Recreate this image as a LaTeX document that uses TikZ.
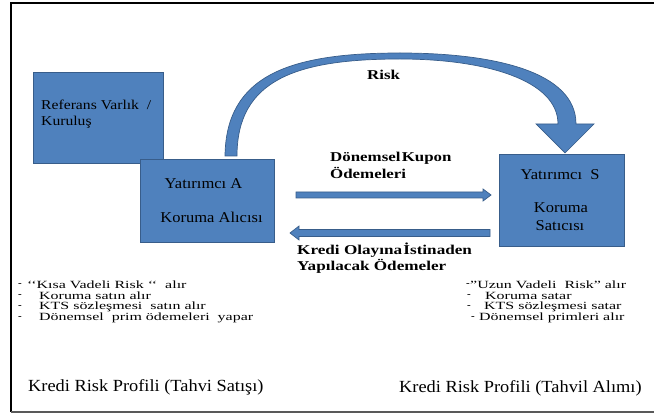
\documentclass[tikz,border=0pt]{standalone}
\usepackage{fontspec}
\setmainfont{Liberation Serif}
\usetikzlibrary{calc}
\definecolor{boxblue}{RGB}{79,129,189}
\definecolor{boxline}{RGB}{56,93,138}
\newcommand{\sx}[2]{\scalebox{#1}[1]{#2}}
\begin{document}
\begin{tikzpicture}[x=1pt,y=-1pt,
  bluebox/.style={draw=boxline, fill=boxblue, line width=1pt, rectangle, inner sep=0pt},
  boxtxt/.style={font=\fontsize{15}{15}\selectfont, text=black, inner sep=0pt},
  reftxt/.style={font=\fontsize{13.5}{13.5}\selectfont, text=black, inner sep=0pt, anchor=west},
  lbl/.style={font=\bfseries\fontsize{13.5}{13.5}\selectfont, inner sep=0pt, anchor=west},
  itemtxt/.style={font=\fontsize{11}{11}\selectfont, inner sep=0pt, anchor=west},
  profile/.style={font=\fontsize{17}{17}\selectfont, inner sep=0pt, anchor=west},
  bluearrow/.style={fill=boxblue, draw=boxline, line width=0.7pt, line join=miter}]
\useasboundingbox (0,0) rectangle (654,414);

% outer frame
\draw[line width=1.6pt, black] (654,3) -- (11,3) -- (11,412);
\draw[line width=1.6pt, black!65] (11,412) -- (654,412);

% boxes
\node[bluebox, minimum width=130pt, minimum height=91pt] (ref) at (98,118.5) {};
\node[bluebox, minimum width=134pt, minimum height=83pt] (A) at (207,201.5) {};
\node[bluebox, minimum width=125pt, minimum height=92pt] (S) at (561.5,201) {};

% box texts
\node[reftxt] (ref1) at (41,105) {\sx{1.16}{Referans Varlık \ /}};
\node[reftxt] (ref2) at (41,122) {\sx{1.16}{Kuruluş}};
\node[boxtxt] (A1) at (203.5,184) {\sx{1.1}{Yatırımcı A}};
\node[boxtxt] (A2) at (211.5,217) {\sx{1.1}{Koruma Alıcısı}};
\node[boxtxt] (S1) at (560,175) {\sx{1.1}{Yatırımcı \ S}};
\node[boxtxt] (S2) at (561,208) {\sx{1.1}{Koruma}};
\node[boxtxt] (S3) at (560,226) {\sx{1.1}{Satıcısı}};

% curved risk arrow from A over to S
\coordinate (rl) at (231,156);
\coordinate (rt) at (565,153);
\draw[bluearrow]
  ($(rl)+(-6,0)$) .. controls (226,75) and (290,53) .. (400,53)
  .. controls (495,53) and (576,72) .. (576,124)
  -- (594,124) -- (rt) -- (536,124) -- (558,124)
  .. controls (558,80) and (485,59) .. (400,59)
  .. controls (296,59) and (237,80) .. ($(rl)+(6,0)$) -- cycle;
\node[lbl] (risk) at (367,75) {\sx{1.25}{Risk}};

% coupon payments A -> S
\coordinate (c1) at (296,195);
\coordinate (c2) at (491,195);
\draw[bluearrow] ($(c1)+(0,-3)$) -- ($(c2)+(-8,-3)$) -- ($(c2)+(-8,-6)$) -- (c2)
  -- ($(c2)+(-8,6)$) -- ($(c2)+(-8,3)$) -- ($(c1)+(0,3)$) -- cycle;
\node[lbl] (cp1) at (330,158) {\sx{1.25}{Dönemsel\hspace{1pt}Kupon}};
\node[lbl] (cp2) at (330,173) {\sx{1.25}{Ödemeleri}};

% credit event payments S -> A
\coordinate (k1) at (490,233);
\coordinate (k2) at (290,233);
\draw[bluearrow] ($(k1)+(0,-3.5)$) -- ($(k2)+(9,-3.5)$) -- ($(k2)+(9,-7)$) -- (k2)
  -- ($(k2)+(9,7)$) -- ($(k2)+(9,3.5)$) -- ($(k1)+(0,3.5)$) -- cycle;
\node[lbl] (kr1) at (297,250) {\sx{1.27}{Kredi Olayına\hspace{1pt}İstinaden}};
\node[lbl] (kr2) at (297,266) {\sx{1.27}{Yapılacak Ödemeler}};

% protection buyer profile
\node[itemtxt] (l1d) at (18,285) {-};
\node[itemtxt] (l1) at (27,285) {\sx{1.45}{‘‘Kısa Vadeli Risk ‘‘ \ alır}};
\node[itemtxt] (l2d) at (18,296) {-};
\node[itemtxt] (l2) at (39,296) {\sx{1.45}{Koruma satın alır}};
\node[itemtxt] (l3d) at (18,307) {-};
\node[itemtxt] (l3) at (39,307) {\sx{1.45}{KTS sözleşmesi \ satın alır}};
\node[itemtxt] (l4d) at (18,318) {-};
\node[itemtxt] (l4) at (39,318) {\sx{1.45}{Dönemsel \ prim ödemeleri \ yapar}};
\node[profile] (lp) at (28,387) {\sx{1.08}{Kredi Risk Profili (Tahvi Satışı)}};

% protection seller profile
\node[itemtxt] (r1d) at (466,285) {-};
\node[itemtxt] (r1) at (470,285) {\sx{1.45}{"Uzun Vadeli \ Risk" alır}};
\node[itemtxt] (r2d) at (467,296) {-};
\node[itemtxt] (r2) at (485,296) {\sx{1.45}{Koruma satar}};
\node[itemtxt] (r3d) at (467,307) {-};
\node[itemtxt] (r3) at (484,307) {\sx{1.45}{KTS sözleşmesi satar}};
\node[itemtxt] (r4d) at (471,318) {-};
\node[itemtxt] (r4) at (479,318) {\sx{1.45}{Dönemsel primleri alır}};
\node[profile] (rp) at (399,388) {\sx{1.08}{Kredi Risk Profili (Tahvil Alımı)}};
\end{tikzpicture}
\end{document}
